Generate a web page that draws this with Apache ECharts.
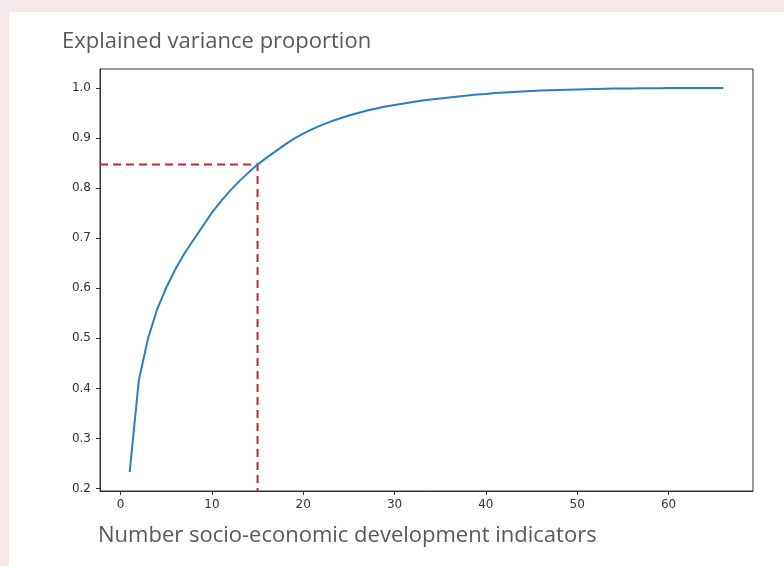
<!DOCTYPE html>
<html><head><meta charset="utf-8">
<script src="https://cdn.jsdelivr.net/npm/echarts@6/dist/echarts.min.js"></script>
<style>html,body{margin:0;padding:0;background:#f7e9e9;}#c{width:784px;height:566px;}</style>
</head><body><div id="c"></div>
<script>
const components = [1,2,3,4,5,6,7,8,9,10,11,12,13,14,15,16,17,18,19,20,21,22,23,24,25,26,27,28,29,30,31,32,33,34,35,36,37,38,39,40,41,42,43,44,45,46,47,48,49,50,51,52,53,54,55,56,57,58,59,60,61,62,63,64,65,66];
const explained = [0.233,0.416,0.499,0.558,0.601,0.638,0.670,0.697,0.724,0.751,0.774,0.795,0.814,0.831,0.847,0.861,0.874,0.887,0.899,0.909,0.918,0.926,0.933,0.939,0.945,0.950,0.955,0.959,0.963,0.966,0.969,0.972,0.975,0.977,0.979,0.981,0.983,0.985,0.987,0.988,0.990,0.991,0.992,0.993,0.994,0.995,0.9955,0.996,0.9965,0.997,0.9975,0.998,0.9985,0.9988,0.999,0.9992,0.9994,0.9996,0.9997,0.9998,0.9999,0.9999,1.0,1.0,1.0,1.0];
const xTicks = [0,10,20,30,40,50,60];
const yTicks = [0.2,0.3,0.4,0.5,0.6,0.7,0.8,0.9,1.0];
const thresholdX = 15;
const thresholdY = 0.847;
const xMin = -2.25, xMax = 69.25, yMin = 0.195, yMax = 1.038;

const chart = echarts.init(document.getElementById('c'), null, {renderer:'canvas'});
const tickFont = {fontFamily:'DejaVu Sans', fontSize:12, color:'#333'};
chart.setOption({
  animation:false,
  backgroundColor:'#f7e9e9',
  graphic:[
    {type:'rect', shape:{x:9,y:12,width:775,height:554}, style:{fill:'#ffffff'}, z:-10},
    {type:'text', left:62, top:31, style:{text:'Explained variance proportion', font:'22px "Open Sans"', fill:'#595959'}},
    {type:'text', left:98, top:525, style:{text:'Number socio-economic development indicators', font:'22px "Open Sans"', fill:'#595959'}}
  ],
  grid:{left:100, right:31, top:69, bottom:75, show:true, borderColor:'#333', borderWidth:1, backgroundColor:'#fff'},
  xAxis:{type:'value', min:xMin, max:xMax,
    axisLine:{show:true, onZero:false, lineStyle:{color:'#333'}},
    axisTick:{show:true, length:4, customValues:xTicks, lineStyle:{color:'#333'}},
    axisLabel:Object.assign({customValues:xTicks, margin:8}, tickFont),
    splitLine:{show:false}},
  yAxis:{type:'value', min:yMin, max:yMax,
    axisLine:{show:true, onZero:false, lineStyle:{color:'#333'}},
    axisTick:{show:true, length:4, customValues:yTicks, lineStyle:{color:'#333'}},
    axisLabel:Object.assign({customValues:yTicks, margin:9, formatter:v=>v.toFixed(1)}, tickFont),
    splitLine:{show:false}},
  series:[
    {type:'line', data:components.map((c,i)=>[c,explained[i]]), showSymbol:false, symbol:'none',
     lineStyle:{color:'#2a7fc0', width:2}, z:3},
    {type:'line', data:[[xMin,thresholdY],[thresholdX,thresholdY],[thresholdX,yMin]], showSymbol:false, symbol:'none',
     lineStyle:{color:'#c8262c', width:2, type:[8,5]}, z:2}
  ]
});
</script></body></html>
